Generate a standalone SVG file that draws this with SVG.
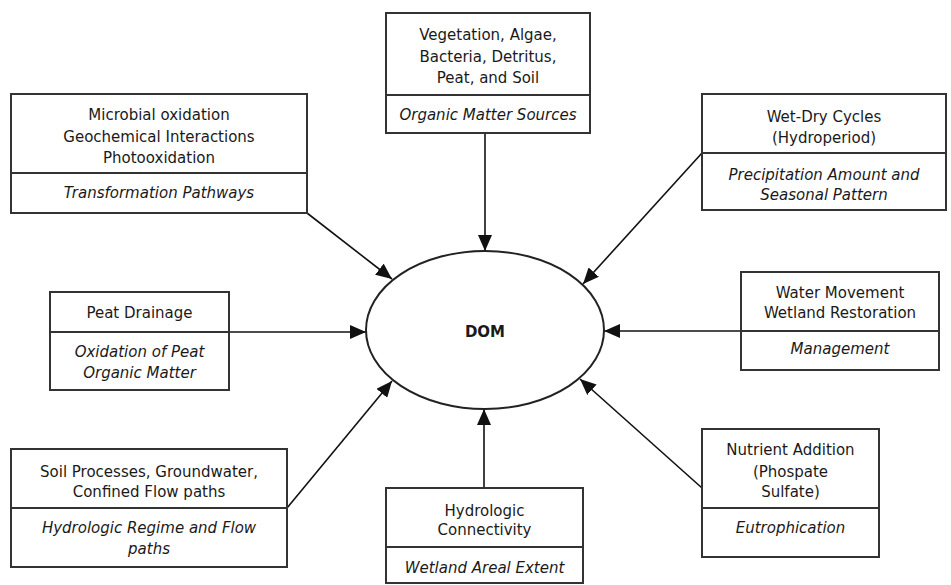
<svg xmlns="http://www.w3.org/2000/svg" width="951" height="585" viewBox="0 0 951 585">
<style>
.box{fill:#fff;stroke:#333;stroke-width:2}
.div{stroke:#333;stroke-width:2}
.t{font-family:"DejaVu Sans",Verdana,sans-serif;font-size:15px;fill:#1a1a1a;text-anchor:middle}
.i{font-style:italic}
.c{stroke:#111;stroke-width:1.6;fill:none;marker-end:url(#ah)}
</style>
<defs>
<marker id="ah" markerUnits="userSpaceOnUse" markerWidth="16" markerHeight="14" refX="16" refY="7" orient="auto">
<path d="M0,0 L16,7 L0,14 z" fill="#111"/>
</marker>
</defs>
<g id="connectors">
<line class="c" x1="307" y1="213" x2="392" y2="279"/>
<line class="c" x1="485" y1="133" x2="485" y2="251"/>
<line class="c" x1="702" y1="153" x2="583" y2="284"/>
<line class="c" x1="229" y1="332" x2="366" y2="332"/>
<line class="c" x1="741" y1="331" x2="604" y2="331"/>
<line class="c" x1="287" y1="508" x2="392" y2="381"/>
<line class="c" x1="484" y1="488" x2="484" y2="409"/>
<line class="c" x1="702" y1="488" x2="580" y2="379"/>
</g>
<g id="dom">
<ellipse cx="485" cy="330" rx="119" ry="79" fill="#fff" stroke="#222" stroke-width="2"/>
<text class="t" x="485" y="337" font-weight="bold" font-size="17px">DOM</text>
</g>
<g id="transformation">
<rect class="box" x="11" y="94" width="296" height="119"/>
<line class="div" x1="11" y1="173" x2="307" y2="173"/>
<text class="t" x="159" y="120">Microbial oxidation</text>
<text class="t" x="159" y="142">Geochemical Interactions</text>
<text class="t" x="159" y="163">Photooxidation</text>
<text class="t i" x="159" y="198">Transformation Pathways</text>
</g>
<g id="sources">
<rect class="box" x="386" y="13" width="204" height="120"/>
<line class="div" x1="386" y1="95" x2="590" y2="95"/>
<text class="t" x="488" y="40">Vegetation, Algae,</text>
<text class="t" x="488" y="62">Bacteria, Detritus,</text>
<text class="t" x="488" y="83">Peat, and Soil</text>
<text class="t i" x="488" y="120">Organic Matter Sources</text>
</g>
<g id="wetdry">
<rect class="box" x="702" y="94" width="244" height="116"/>
<line class="div" x1="702" y1="153" x2="946" y2="153"/>
<text class="t" x="824" y="122">Wet-Dry Cycles</text>
<text class="t" x="824" y="143">(Hydroperiod)</text>
<text class="t i" x="824" y="180">Precipitation Amount and</text>
<text class="t i" x="824" y="200">Seasonal Pattern</text>
</g>
<g id="peat">
<rect class="box" x="50" y="292" width="179" height="98"/>
<line class="div" x1="50" y1="332" x2="229" y2="332"/>
<text class="t" x="139.5" y="318">Peat Drainage</text>
<text class="t i" x="139.5" y="357">Oxidation of Peat</text>
<text class="t i" x="139.5" y="378">Organic Matter</text>
</g>
<g id="management">
<rect class="box" x="741" y="272" width="198" height="98"/>
<line class="div" x1="741" y1="331" x2="939" y2="331"/>
<text class="t" x="840" y="298">Water Movement</text>
<text class="t" x="840" y="318">Wetland Restoration</text>
<text class="t i" x="840" y="354">Management</text>
</g>
<g id="hydroregime">
<rect class="box" x="11" y="449" width="276" height="118"/>
<line class="div" x1="11" y1="508" x2="287" y2="508"/>
<text class="t" x="149" y="477">Soil Processes, Groundwater,</text>
<text class="t" x="149" y="497">Confined Flow paths</text>
<text class="t i" x="149" y="533">Hydrologic Regime and Flow</text>
<text class="t i" x="149" y="554">paths</text>
</g>
<g id="connectivity">
<rect class="box" x="386" y="488" width="197" height="95"/>
<line class="div" x1="386" y1="547" x2="583" y2="547"/>
<text class="t" x="484.5" y="516">Hydrologic</text>
<text class="t" x="484.5" y="535">Connectivity</text>
<text class="t i" x="484.5" y="573">Wetland Areal Extent</text>
</g>
<g id="eutrophication">
<rect class="box" x="702" y="429" width="177" height="128"/>
<line class="div" x1="702" y1="508" x2="879" y2="508"/>
<text class="t" x="790.5" y="455">Nutrient Addition</text>
<text class="t" x="790.5" y="477">(Phospate</text>
<text class="t" x="790.5" y="497">Sulfate)</text>
<text class="t i" x="790.5" y="533">Eutrophication</text>
</g>
</svg>
